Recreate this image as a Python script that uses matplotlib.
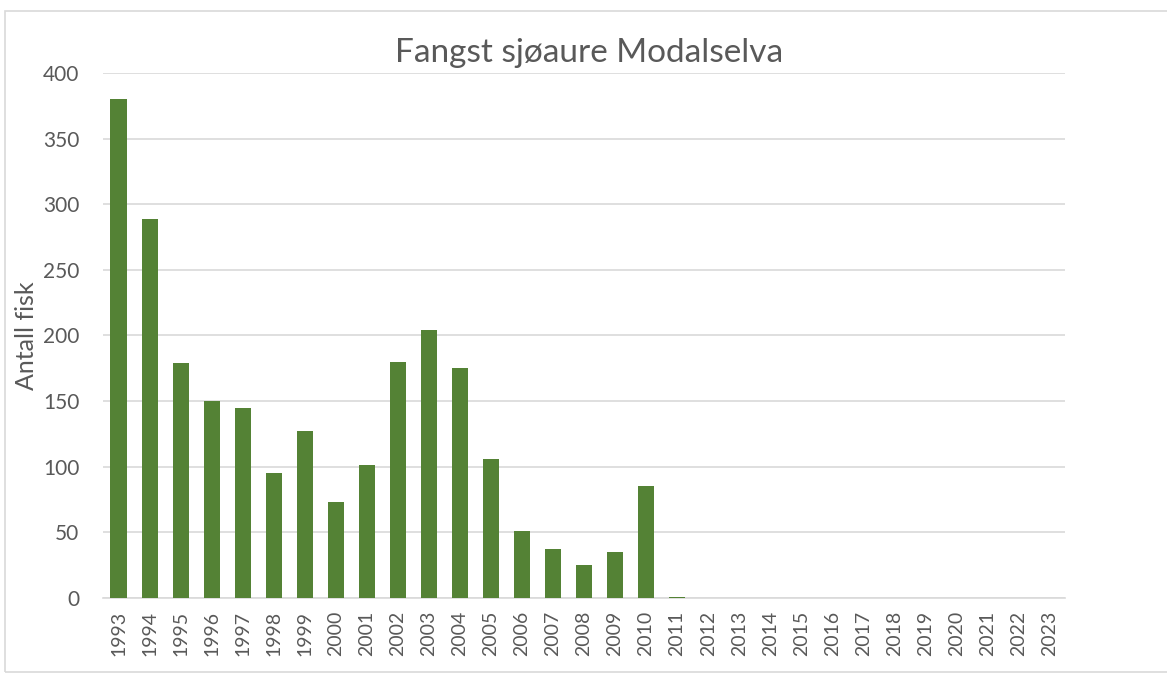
import matplotlib
matplotlib.use("Agg")
import matplotlib.pyplot as plt
import matplotlib.patches as mpatches

# ── Data ──────────────────────────────────────────────────────────────────
YEARS = [str(y) for y in range(1993, 2024)]
CATCH = [380, 289, 179, 150, 145, 95, 127, 73, 101, 180, 204, 175, 106,
         51, 37, 25, 35, 85, 1, 0, 0, 0, 0, 0, 0, 0, 0, 0, 0, 0, 0]
YTICKS = [0, 50, 100, 150, 200, 250, 300, 350, 400]

TEXT = "#595959"
GRID = "#d9d9d9"
BAR = "#548235"

plt.rcParams["font.family"] = ["Lato", "DejaVu Sans"]

fig = plt.figure(figsize=(11.67, 6.75), dpi=100)
ax = fig.add_axes([0.0883, 0.114, 0.8243, 0.778])

x = range(len(YEARS))
ax.bar(x, CATCH, width=0.52, color=BAR, zorder=3)

ax.set_xlim(-0.5, len(YEARS) - 0.5)
ax.set_ylim(0, 400)
ax.set_yticks(YTICKS)
ax.set_xticks(list(x))
ax.set_xticklabels(YEARS, rotation=90)
ax.tick_params(axis="both", length=0, colors=TEXT)
ax.tick_params(axis="x", labelsize=14, pad=9)
ax.tick_params(axis="y", labelsize=15, pad=17)

ax.grid(axis="y", color=GRID, lw=1.2, zorder=0)
for s in ["top", "right", "left"]:
    ax.spines[s].set_visible(False)
ax.spines["bottom"].set_color(GRID)
ax.spines["bottom"].set_linewidth(1.2)

ax.set_ylabel("Antall fisk", fontsize=18, color=TEXT)
ax.yaxis.set_label_coords(-0.068, 0.5)
fig.text(0.505, 0.922, "Fangst sjøaure Modalselva", ha="center", va="center",
         fontsize=24, color=TEXT)

# chart-area border
fig.patches.append(mpatches.Rectangle((5 / 1167, 3 / 675), 1.1, 661 / 675,
                                      transform=fig.transFigure, fill=False,
                                      edgecolor=GRID, lw=1.2))

fig.savefig("out.png", dpi=100)
